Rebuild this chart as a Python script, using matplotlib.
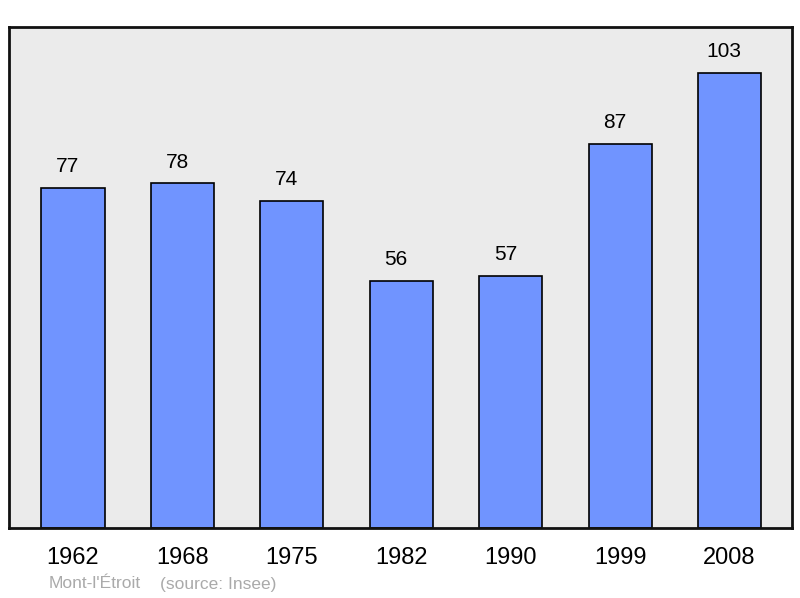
import matplotlib.pyplot as plt

years = ['1962', '1968', '1975', '1982', '1990', '1999', '2008']
population = [77, 78, 74, 56, 57, 87, 103]

plt.rcParams['font.family'] = ['Liberation Sans', 'DejaVu Sans']

fig = plt.figure(figsize=(8, 5.98), dpi=100)
ax = fig.add_axes([9 / 800, 70 / 598, 783 / 800, 501 / 598])
ax.set_facecolor('#ebebeb')

x = list(range(len(years)))
bars = ax.bar(x, population, width=0.576, color='#7094ff', edgecolor='black', linewidth=1.2, zorder=2)

# étiquettes des valeurs au-dessus des barres
for xi, v in zip(x, population):
    ax.annotate(str(v), (xi, v), xytext=(-3.8, 8.5), textcoords='offset points',
                ha='center', va='bottom', fontsize=15, color='black')

ax.set_xlim(-0.585, 6.571)
ax.set_ylim(0, 113.4)
ax.set_xticks(x)
ax.set_xticklabels(years, fontsize=17)
ax.tick_params(axis='x', length=0, pad=13.5)
ax.set_yticks([])
for s in ax.spines.values():
    s.set_linewidth(2)
    s.set_color('#111111')

fig.text(49 / 800, 1 - 584 / 598, "Mont-l'Étroit", color='#aaaaaa', fontsize=12.5, va='center')
fig.text(160 / 800, 1 - 584 / 598, "(source: Insee)", color='#aaaaaa', fontsize=12.5, va='center')

fig.savefig('out.png', dpi=100)
